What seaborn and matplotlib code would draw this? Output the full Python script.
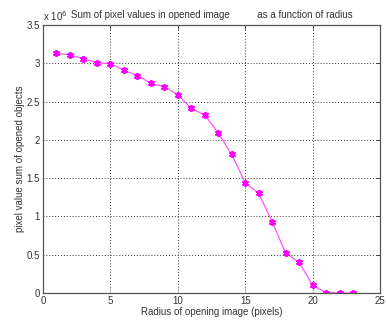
import matplotlib
matplotlib.use("Agg")
import matplotlib.pyplot as plt
import seaborn as sns
import pandas as pd

# Sum of pixel values (x 1e6) after morphological opening, per radius
radius = [1, 2, 3, 4, 5, 6, 7, 8, 9, 10, 11, 12, 13, 14, 15, 16, 17, 18, 19, 20, 21, 22, 23]
pixel_sum = [3.13, 3.11, 3.06, 3.01, 2.995, 2.91, 2.84, 2.74, 2.695, 2.59, 2.41, 2.325,
             2.09, 1.81, 1.44, 1.30, 0.93, 0.52, 0.40, 0.10, 0.005, 0.0, 0.0]
x_ticks = [0, 5, 10, 15, 20, 25]
y_ticks = [0, 0.5, 1, 1.5, 2, 2.5, 3, 3.5]
y_tick_labels = ["0", "0.5", "1", "1.5", "2", "2.5", "3", "3.5"]

df = pd.DataFrame({"radius": radius, "sum": pixel_sum})

sns.set_style("white")
plt.rcParams["font.family"] = ["Liberation Sans", "DejaVu Sans"]

fig = plt.figure(figsize=(3.87, 3.25), dpi=100)
ax = fig.add_axes([0.111, 0.0985, 0.871, 0.8245])

sns.lineplot(data=df, x="radius", y="sum", ax=ax, color="#ff55ff", linewidth=0.9,
             marker=(6, 2, 0), markersize=5, markeredgewidth=1.3,
             markeredgecolor="#ff00ff", markerfacecolor="#ff00ff")

ax.set_xlim(0, 25)
ax.set_ylim(0, 3.5)
ax.set_xticks(x_ticks)
ax.set_xticklabels([str(t) for t in x_ticks])
ax.set_yticks(y_ticks)
ax.set_yticklabels(y_tick_labels)
ax.tick_params(direction="in", length=3, width=0.6, labelsize=7, colors="#333333",
               top=True, right=True, pad=2)
ax.grid(True, linestyle=(0, (1, 2)), color="#333333", linewidth=0.7)

for s in ax.spines.values():
    s.set_visible(True)
    s.set_color("#555555")
    s.set_linewidth(0.9)

ax.set_xlabel("Radius of opening image (pixels)", fontsize=7, color="#333333", labelpad=1)
ax.set_ylabel("pixel value sum of opened objects", fontsize=7, color="#333333", labelpad=1)
ax.set_title("Sum of pixel values in opened image          as a function of radius",
             fontsize=7, color="#333333", pad=5)
fig.text(43 / 387, 1 - 16 / 325, "x 10$^6$", fontsize=7, color="#333333", ha="left",
         va="center")

fig.savefig("out.png", dpi=100)
